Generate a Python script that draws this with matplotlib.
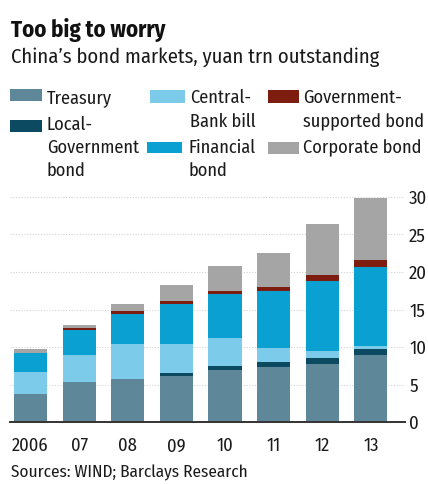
import matplotlib
matplotlib.use("Agg")
import matplotlib.pyplot as plt
from matplotlib.patches import Rectangle
import numpy as np

# Data: China's bond markets, yuan trn outstanding
years = ["2006", "07", "08", "09", "10", "11", "12", "13"]
treasury = [3.7, 5.4, 5.7, 6.2, 6.9, 7.4, 7.7, 8.9]
local_gov = [0.0, 0.0, 0.1, 0.4, 0.6, 0.6, 0.9, 0.9]
central_bank = [3.0, 3.5, 4.6, 3.8, 3.7, 1.9, 0.9, 0.4]
financial = [2.5, 3.4, 4.0, 5.4, 5.9, 7.6, 9.3, 10.5]
gov_supported = [0.0, 0.3, 0.4, 0.3, 0.4, 0.5, 0.8, 0.9]
corporate = [0.5, 0.4, 0.9, 2.1, 3.3, 4.5, 6.8, 8.3]
y_ticks = [0, 5, 10, 15, 20, 25, 30]

series = [treasury, local_gov, central_bank, financial, gov_supported, corporate]
colors = ["#5e8799", "#0c4a62", "#7ccbea", "#0aa0d2", "#7c1d0f", "#a5a5a5"]

FONT = ["Fira Sans Condensed", "PT Sans Narrow", "DejaVu Sans"]
plt.rcParams["font.family"] = FONT

W, H = 428, 484
fig = plt.figure(figsize=(W / 100, H / 100), dpi=100)
fig.patch.set_facecolor("white")


def fx(px):
    return px / W


def fy(py):
    return 1 - py / H


# Plot area
ax_left, ax_right, ax_top, ax_bottom = 10, 405, 197, 422
ax = fig.add_axes([fx(ax_left), fy(ax_bottom), fx(ax_right - ax_left),
                   (ax_bottom - ax_top) / H])
x = np.arange(len(years))
bottom = np.zeros(len(years))
for vals, col in zip(series, colors):
    ax.bar(x, vals, width=0.68, bottom=bottom, color=col, edgecolor="none", zorder=3)
    bottom += np.array(vals)

ax.set_xlim(-0.42, 7.70)
ax.set_ylim(0, 30)
ax.set_yticks(y_ticks)
ax.yaxis.tick_right()
ax.tick_params(axis="y", length=0, pad=3, labelsize=13.5, labelcolor="#1a1a1a")
ax.set_xticks(x)
ax.set_xticklabels(years)
ax.tick_params(axis="x", length=0, pad=11, labelsize=13.3, labelcolor="#1a1a1a")
for s in ax.spines.values():
    s.set_visible(False)
ax.set_facecolor("none")
for yv in y_ticks[1:]:
    ax.axhline(yv, color="#cfd3d6", lw=0.8, ls=(0, (1, 1.5)), zorder=1)
ax.axhline(0, color="#333333", lw=1.4, zorder=4, clip_on=False)

# Title and subtitle
fig.text(fx(11), fy(37), "Too big to worry", fontsize=16.4, fontweight="bold",
         color="#111111", va="baseline", ha="left")
fig.text(fx(11), fy(63), "China\u2019s bond markets, yuan trn outstanding",
         fontsize=14.8, color="#1a1a1a", va="baseline", ha="left")

# Legend
legend_entries = [
    # (swatch x0, x1, y0, y1, color, text x, [(baseline, line)])
    (10, 42, 89, 101, colors[0], 47, [(103, "Treasury")]),
    (10, 42, 120, 132, colors[1], 47, [(130, "Local-"), (153, "Government"), (176, "bond")]),
    (150, 185, 90, 103, colors[2], 190, [(103, "Central-"), (127, "Bank bill")]),
    (147, 182, 142, 153, colors[3], 188, [(153, "Financial"), (176, "bond")]),
    (268, 299, 90, 103, colors[4], 303, [(103, "Government-"), (127, "supported bond")]),
    (268, 299, 142, 154, colors[5], 303, [(153, "Corporate bond")]),
]
for x0, x1, y0, y1, col, tx, lines in legend_entries:
    fig.add_artist(Rectangle((fx(x0), fy(y1)), fx(x1 - x0), (y1 - y0) / H,
                             transform=fig.transFigure, color=col, lw=0))
    for base, txt in lines:
        fig.text(fx(tx), fy(base), txt, fontsize=13.2, color="#1a1a1a",
                 va="baseline", ha="left")

# Source note
fig.text(fx(11), fy(477), "Sources: WIND; Barclays Research", fontsize=12.4,
         color="#1a1a1a", va="baseline", ha="left")

fig.savefig("out.png", dpi=100, facecolor="white")
